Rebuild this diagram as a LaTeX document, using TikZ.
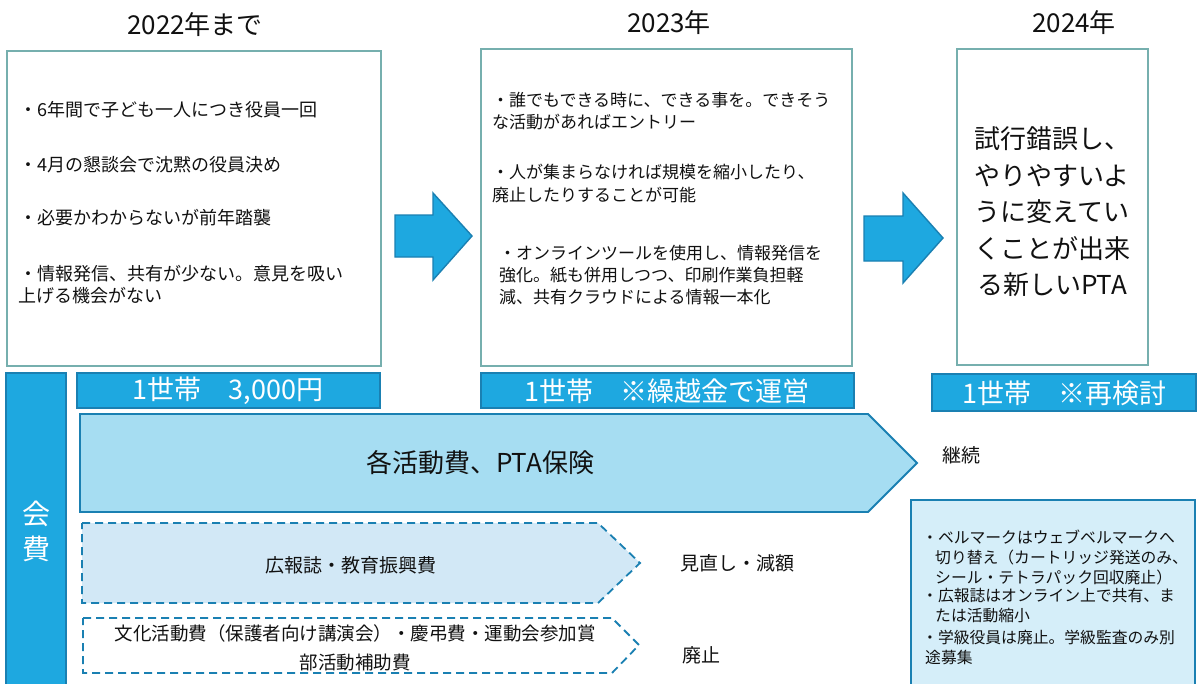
\documentclass[tikz,border=0pt]{standalone}
\usepackage{fontspec}
\setmainfont{Noto Sans CJK JP}
\definecolor{tealb}{HTML}{76AFAE}
\definecolor{bblue}{HTML}{1EA8E0}
\definecolor{bedge}{HTML}{1A80B2}
\definecolor{lblue}{HTML}{A6DDF2}
\definecolor{pblue}{HTML}{D2E8F6}
\definecolor{nblue}{HTML}{D5EEF9}
\definecolor{txt}{HTML}{111111}
\tikzset{
  yearbox/.style={draw=tealb, line width=1.6pt, fill=white},
  banner/.style={draw=bedge, line width=1.6pt, fill=bblue},
  bigarrow/.style={draw=bedge, line width=1.4pt, fill=bblue},
  mainpent/.style={draw=bedge, line width=1.8pt, fill=lblue},
  dashpent/.style={draw=bedge, line width=1.8pt, dash pattern=on 8pt off 5pt},
  notebox/.style={draw=bedge, line width=1.8pt, fill=nblue},
  lbl/.style={inner sep=0pt, text=txt, anchor=west},
  ctr/.style={inner sep=0pt, text=txt},
  fs/.style={font=\fontsize{#1}{#1}\selectfont},
}
\begin{document}
\begin{tikzpicture}[x=1pt,y=-1pt]
\useasboundingbox (0,0) rectangle (1199,683);
\fill[white] (0,0) rectangle (1199,683);

% year titles
\node[ctr, fs=26] (t1) at (195,25) {2022年まで};
\node[ctr, fs=26] (t2) at (669,23) {2023年};
\node[ctr, fs=26] (t3) at (1074,23) {2024年};

% year boxes
\draw[yearbox] (7,51) rectangle (381,366);
\draw[yearbox] (481,49) rectangle (852,366);
\draw[yearbox] (957,49) rectangle (1148,365);

% box 1 text
\node[lbl, fs=18] (a1) at (19,110) {・6年間で子ども一人につき役員一回};
\node[lbl, fs=18] (a2) at (19,165) {・4月の懇談会で沈黙の役員決め};
\node[lbl, fs=18] (a3) at (19,218) {・必要かわからないが前年踏襲};
\node[lbl, fs=18] (a4) at (19,274) {・情報発信、共有が少ない。意見を吸い};
\node[lbl, fs=18] (a5) at (18,296) {上げる機会がない};

% box 2 text
\node[lbl, fs=17] (b1) at (492,100) {・誰でもできる時に、できる事を。できそう};
\node[lbl, fs=17] (b2) at (492,122) {な活動があればエントリー};
\node[lbl, fs=17] (b3) at (492,172) {・人が集まらなければ規模を縮小したり、};
\node[lbl, fs=17] (b4) at (492,195) {廃止したりすることが可能};
\node[lbl, fs=17] (b5) at (499,253) {・オンラインツールを使用し、情報発信を};
\node[lbl, fs=17] (b6) at (499,275) {強化。紙も併用しつつ、印刷作業負担軽};
\node[lbl, fs=17] (b7) at (499,297) {減、共有クラウドによる情報一本化};

% box 3 text
\node[ctr, align=center, font=\fontsize{26}{36.5}\selectfont] (c1) at (1052,212)
  {試行錯誤し、\\やりやすいよ\\うに変えてい\\くことが出来\\る新しいPTA};

% arrows between boxes
\draw[bigarrow] (395,215) -- (433,215) -- (433,193) -- (472,236) -- (433,280) -- (433,257) -- (395,257) -- cycle;
\draw[bigarrow] (864,216) -- (903,216) -- (903,193) -- (943,238) -- (903,283) -- (903,261) -- (864,261) -- cycle;

% fee column
\draw[banner, line width=1.2pt] (6,373) rectangle (66,690);
\node[ctr, text=white, fs=28] (k1) at (36,514) {会};
\node[ctr, text=white, fs=28] (k2) at (36,549) {費};

% banners
\draw[banner] (77,373) rectangle (380,408);
\node[ctr, text=white, fs=27] (f1) at (228,391) {1世帯　3,000円};
\draw[banner] (481,373) rectangle (854,408);
\node[ctr, text=white, fs=27] (f2) at (667,391) {1世帯　※繰越金で運営};
\draw[banner] (932,374) rectangle (1196,411);
\node[ctr, text=white, fs=27] (f3) at (1064,393) {1世帯　※再検討};

% main pentagon
\draw[mainpent] (80,414) -- (868,414) -- (917,463) -- (868,512) -- (80,512) -- cycle;
\node[ctr, fs=26] (m1) at (480,463) {各活動費、PTA保険};
\node[lbl, fs=19] (m2) at (942,455) {継続};

% dashed pentagon 1
\draw[dashpent, fill=pblue] (82,523) -- (598,523) -- (640,563) -- (598,603) -- (82,603) -- cycle;
\node[ctr, fs=19] (d1) at (351,565) {広報誌・教育振興費};
\node[lbl, fs=19] (d2) at (680,563) {見直し・減額};

% dashed pentagon 2
\draw[dashpent, fill=white] (83,618) -- (612,618) -- (639,645) -- (612,673) -- (83,673) -- cycle;
\node[ctr, align=center, font=\fontsize{18.5}{29}\selectfont] (e1) at (355,647.5)
  {文化活動費（保護者向け講演会）・慶弔費・運動会参加賞\\部活動補助費};
\node[lbl, fs=19] (e2) at (682,655) {廃止};

% note box
\draw[notebox] (911,500) rectangle (1195,690);
\node[lbl, fs=15.8] (n1) at (922,537) {・ベルマークはウェブベルマークへ};
\node[lbl, fs=15.8] (n2) at (935,557) {切り替え（カートリッジ発送のみ、};
\node[lbl, fs=15.8] (n3) at (935,577) {シール・テトラパック回収廃止）};
\node[lbl, fs=15.8] (n4) at (922,596) {・広報誌はオンライン上で共有、ま};
\node[lbl, fs=15.8] (n5) at (935,616) {たは活動縮小};
\node[lbl, fs=15.8] (n6) at (922,637) {・学級役員は廃止。学級監査のみ別};
\node[lbl, fs=15.8] (n7) at (925,658) {途募集};
\end{tikzpicture}
\end{document}
